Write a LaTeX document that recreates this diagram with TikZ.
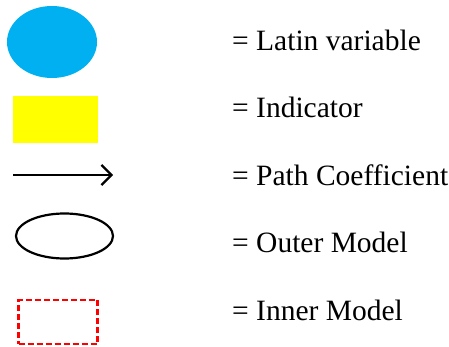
\documentclass[tikz,border=0pt]{standalone}
\usepackage{fontspec}
\setmainfont{Liberation Serif}
\usetikzlibrary{shapes.geometric,arrows.meta}
\definecolor{latblue}{RGB}{0,176,240}
\definecolor{ylw}{RGB}{255,255,0}
\definecolor{rd}{RGB}{255,0,0}
\begin{document}
\begin{tikzpicture}[x=1pt,y=-1pt,
  lbl/.style={anchor=base west,inner sep=0pt,font=\fontsize{29.5}{34}\selectfont},
  latent/.style={ellipse,fill=latblue,minimum width=90pt,minimum height=72pt,inner sep=0pt},
  indic/.style={rectangle,fill=ylw,minimum width=85pt,minimum height=47pt,inner sep=0pt},
  outer/.style={ellipse,draw=black,line width=2.2pt,minimum width=97pt,minimum height=45pt,inner sep=0pt},
  innerm/.style={rectangle,draw=rd,dash pattern=on 6pt off 3pt,line width=2.5pt,minimum width=79pt,minimum height=44pt,inner sep=0pt},
  pathc/.style={line width=2.2pt,-{Straight Barb[length=10pt,width=20pt,line width=2.2pt]}}]
\useasboundingbox (0,0) rectangle (449,347);
\node[latent] (lv) at (52,42) {};
\node[indic] (ind) at (55.5,119.5) {};
\coordinate (a1) at (13,175);
\coordinate (a2) at (113,175);
\draw[pathc] (a1) -- (a2);
\node[outer] (om) at (64.5,236) {};
\node[innerm] (im) at (58,322) {};
\node[lbl] (t1) at (232,50.7) {= Latin variable};
\node[lbl] (t2) at (232,118) {= Indicator};
\node[lbl] (t3) at (232,186) {= Path Coefficient};
\node[lbl] (t4) at (232,252.5) {= Outer Model};
\node[lbl] (t5) at (232,320) {= Inner Model};
\end{tikzpicture}
\end{document}
